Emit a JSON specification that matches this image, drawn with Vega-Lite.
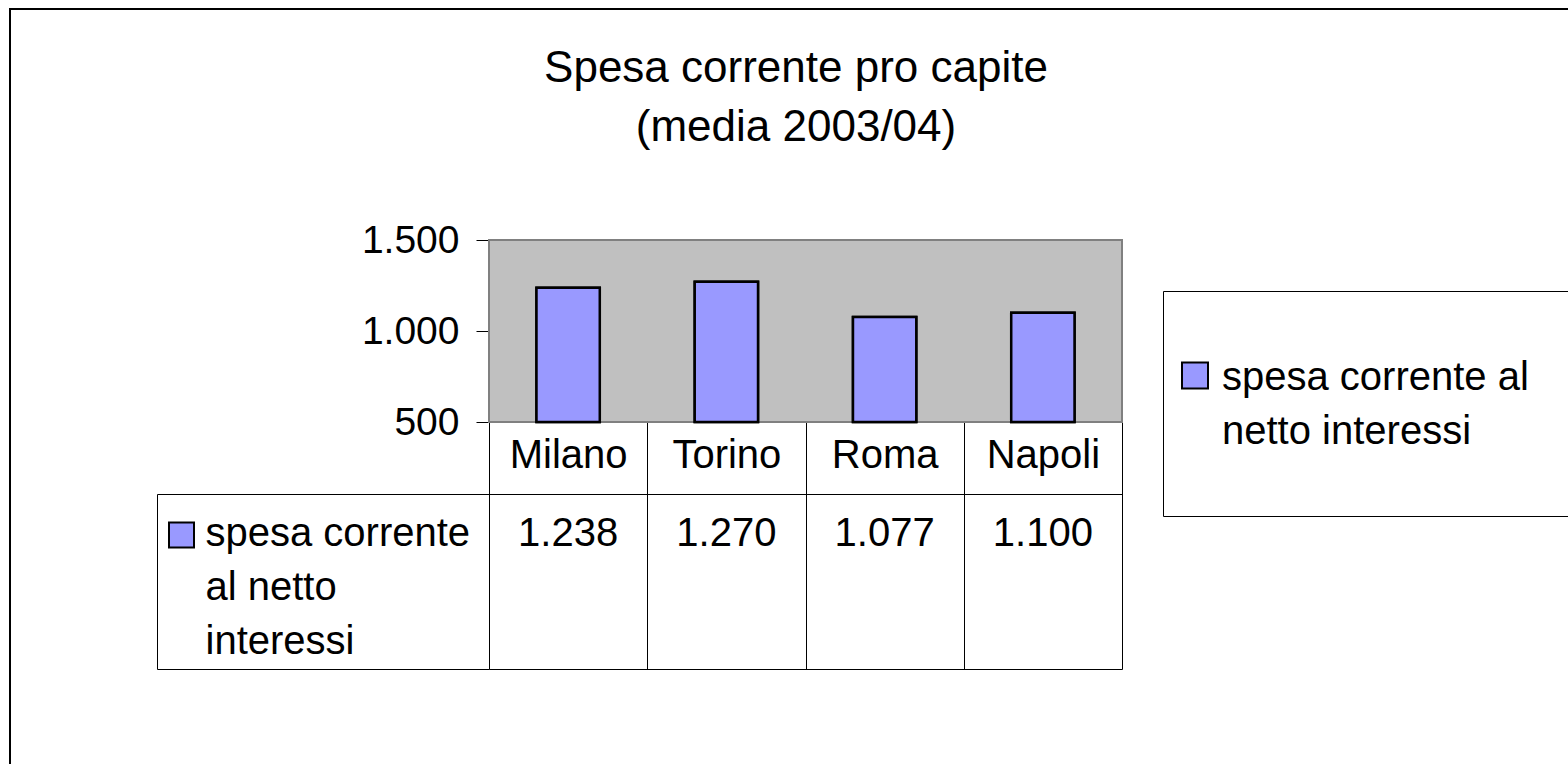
{
  "$schema": "https://vega.github.io/schema/vega-lite/v6.json",
  "autosize": {"type": "none"},
  "padding": {"left": 10, "top": 9, "right": -14, "bottom": -15},
  "width": 1572,
  "height": 770,
  "background": "white",
  "config": {
    "font": "Liberation Sans",
    "locale": {"number": {"decimal": ",", "thousands": ".", "grouping": [3], "currency": ["€", ""]}},
    "view": {"stroke": "black", "strokeWidth": 2, "fill": "white"}
  },
  "title": {
    "text": ["Spesa corrente pro capite", "(media 2003/04)"],
    "fontSize": 44,
    "fontWeight": "normal",
    "color": "black",
    "anchor": "middle",
    "frame": "group",
    "baseline": "top",
    "offset": -173,
    "lineHeight": 59
  },
  "data": {
    "values": [
      {"citta": "Milano", "spesa": 1238, "serie": "spesa corrente al netto interessi"},
      {"citta": "Torino", "spesa": 1270, "serie": "spesa corrente al netto interessi"},
      {"citta": "Roma", "spesa": 1077, "serie": "spesa corrente al netto interessi"},
      {"citta": "Napoli", "spesa": 1100, "serie": "spesa corrente al netto interessi"}
    ]
  },
  "layer": [
    {
      "transform": [{"aggregate": [{"op": "count", "as": "n"}], "groupby": ["serie"]}],
      "mark": {"type": "rect", "fill": "#C0C0C0", "stroke": "#808080", "strokeWidth": 2},
      "encoding": {
        "x": {"field": "serie", "type": "nominal", "scale": {"type": "band", "paddingInner": 0, "paddingOuter": 0, "range": [479, 1112]}, "axis": null},
        "y": {"datum": 1500, "type": "quantitative", "scale": {"domain": [500, 1500], "range": [413, 231], "zero": false, "nice": false}, "axis": null},
        "y2": {"datum": 500}
      }
    },
    {
      "mark": {"type": "bar", "stroke": "black", "strokeWidth": 2.5, "width": {"band": 0.4}},
      "encoding": {
        "x": {
          "field": "citta", "type": "nominal", "sort": null,
          "scale": {"type": "band", "paddingInner": 0, "paddingOuter": 0, "range": [479, 1112]},
          "axis": {
            "orient": "bottom", "offset": -357, "title": null, "labelAngle": 0,
            "labelFontSize": 40, "labelColor": "black", "labelBaseline": "alphabetic", "labelPadding": -202,
            "tickBand": "extent", "tickSize": 247, "tickColor": "black", "tickWidth": 1,
            "domainColor": "black", "domainWidth": 1, "grid": false
          }
        },
        "y": {
          "field": "spesa", "type": "quantitative",
          "scale": {"domain": [500, 1500], "range": [413, 231], "zero": false, "nice": false},
          "axis": {
            "orient": "left", "offset": -479, "title": null, "values": [500, 1000, 1500], "format": ",d",
            "labelFontSize": 39, "labelColor": "black", "labelPadding": 17,
            "tickSize": 13, "tickColor": "black", "tickWidth": 1,
            "domainColor": "#808080", "domainWidth": 2,
            "grid": true, "gridColor": "black", "gridWidth": 1,
            "gridOpacity": {"condition": {"test": "datum.value === 1000", "value": 1}, "value": 0}
          }
        },
        "y2": {"datum": 500},
        "color": {
          "field": "serie", "type": "nominal",
          "scale": {"range": ["#9999FF"]},
          "legend": {
            "orient": "none", "legendX": 1153, "legendY": 282, "title": null,
            "strokeColor": "black", "fillColor": "white", "padding": 64.5,
            "symbolType": "square", "symbolSize": 676, "symbolOffset": -52.5,
            "symbolStrokeColor": "black", "symbolStrokeWidth": 2,
            "labelFontSize": 40, "labelColor": "black", "labelOffset": 7, "labelBaseline": "middle", "labelLimit": 700,
            "labelExpr": "[slice(datum.label, 0, 17), slice(datum.label, 18)]",
            "encode": {"labels": {"update": {"lineHeight": {"value": 54}, "dy": {"value": 2}}}}
          }
        }
      }
    },
    {
      "mark": {"type": "bar", "stroke": "black", "strokeWidth": 2.5, "width": {"band": 0.4}},
      "encoding": {
        "x": {
          "field": "citta", "type": "nominal", "sort": null,
          "scale": {"type": "band", "paddingInner": 0, "paddingOuter": 0, "range": [479, 1112]},
          "axis": null
        },
        "y": {
          "field": "spesa", "type": "quantitative",
          "scale": {"domain": [500, 1500], "range": [413, 231], "zero": false, "nice": false},
          "axis": null
        },
        "y2": {"datum": 500},
        "color": {
          "field": "serie", "type": "nominal",
          "scale": {"range": ["#9999FF"]},
          "legend": {
            "orient": "none", "legendX": 148, "legendY": 512.5, "title": null,
            "strokeColor": null, "fillColor": null, "padding": 0,
            "symbolType": "square", "symbolSize": 625, "symbolOffset": 10,
            "symbolStrokeColor": "black", "symbolStrokeWidth": 2,
            "labelFontSize": 1, "labelExpr": "''"
          }
        }
      }
    },
    {
      "mark": {"type": "text", "fontSize": 40, "baseline": "alphabetic", "dy": 52, "color": "black"},
      "encoding": {
        "x": {
          "field": "citta", "type": "nominal", "sort": null,
          "scale": {"type": "band", "paddingInner": 0, "paddingOuter": 0, "range": [479, 1112]},
          "axis": null
        },
        "y": {
          "field": "serie", "type": "nominal", "bandPosition": 0,
          "scale": {"type": "band", "paddingInner": 0, "paddingOuter": 0, "range": [485, 660]},
          "axis": {
            "orient": "left", "offset": -147, "title": null,
            "labelExpr": "[slice(datum.label, 0, 14), slice(datum.label, 15, 23), slice(datum.label, 24)]",
            "labelAlign": "left", "labelBaseline": "alphabetic", "labelFontSize": 40, "labelColor": "black",
            "labelLineHeight": 54, "labelLimit": 400, "labelPadding": 284, "labelOffset": -36,
            "tickBand": "extent", "tickSize": -332, "tickColor": "black", "tickWidth": 1,
            "domainColor": "black", "domainWidth": 1,
            "grid": true, "gridColor": "black", "gridOpacity": 1, "gridWidth": 1
          }
        },
        "text": {"field": "spesa", "type": "quantitative", "format": ",d"}
      }
    }
  ],
  "resolve": {"scale": {"x": "independent", "y": "independent", "color": "independent"}}
}
